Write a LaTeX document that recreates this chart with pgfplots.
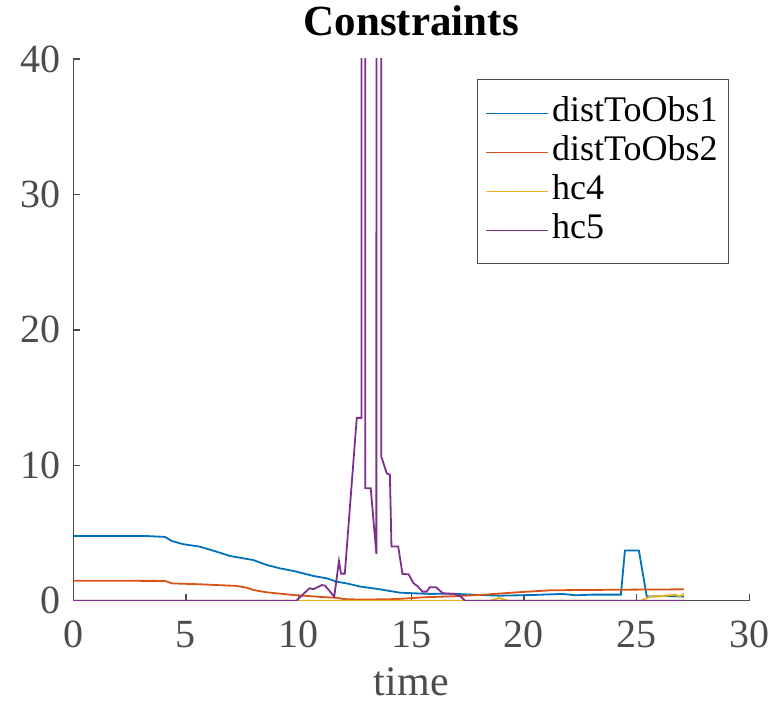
\documentclass[border=0pt]{standalone}
\usepackage{fontspec}
\setmainfont{LiberationSerif}[Extension=.ttf, UprightFont=*-Regular, BoldFont=*-Bold, ItalicFont=*-Italic, BoldItalicFont=*-BoldItalic]
\usepackage{pgfplots}
\pgfplotsset{compat=1.18}

\definecolor{mblue}{rgb}{0,0.447,0.741}
\definecolor{mred}{rgb}{0.85,0.325,0.098}
\definecolor{myellow}{rgb}{0.929,0.694,0.125}
\definecolor{mpurple}{rgb}{0.494,0.184,0.556}
\definecolor{axgray}{rgb}{0.3,0.3,0.3}

\begin{document}
\begin{tikzpicture}
\begin{axis}[
    at={(0,0)}, anchor=south west,
    scale only axis, width=676pt, height=541.7pt,
    xmin=0, xmax=30, ymin=0, ymax=40,
    xtick={0,5,...,30}, ytick={0,10,...,40},
    axis lines=left,
    axis line style={-, draw=axgray, line width=1.5pt},
    tick style={draw=axgray, line width=1.5pt},
    tick align=inside, major tick length=7pt,
    /pgf/number format/assume math mode=true,
    ticklabel style={font=\fontsize{40}{40}\selectfont, text=axgray, inner sep=0pt},
    xticklabel style={anchor=base, yshift=-47pt},
    yticklabel style={anchor=east, xshift=-13pt},
    xlabel={time},
    xlabel style={at={(axis description cs:0.5,0)}, anchor=base, yshift=-95pt,
        font=\fontsize{42}{42}\selectfont, text=axgray, inner sep=0pt},
    title={Constraints},
    title style={at={(axis description cs:0.5,1)}, anchor=base, yshift=17pt,
        font=\fontsize{43}{43}\selectfont\bfseries, inner sep=0pt},
    legend style={at={(0.970,0.9625)}, anchor=north east,
        draw=axgray, line width=1pt, fill=white,
        font=\fontsize{36}{36}\selectfont,
        inner xsep=8pt, inner ysep=14pt, row sep=0pt,
        nodes={text height=25pt, text depth=8pt, inner sep=3pt}},
    legend cell align=left,
    legend image code/.code={\draw[#1, line width=1.5pt] (0pt,0pt) -- (62pt,0pt);},
    every axis plot/.append style={line width=1.8pt},
    clip=true,
]
\addplot[draw=mblue] coordinates {
(0,4.78)(3.18,4.78)(4.07,4.71)(4.37,4.41)(4.88,4.17)(5.62,3.99)(6.3,3.65)
(6.96,3.30)(7.99,3.0)(8.58,2.64)(9.17,2.39)(9.76,2.2)(10.65,1.83)(11.25,1.65)
(11.69,1.40)(12.13,1.28)(12.72,1.05)(13.61,0.84)(14.5,0.59)(15.83,0.5)
(16.72,0.52)(18.05,0.42)(18.94,0.37)(20.4,0.42)(21.7,0.5)(22.3,0.4)
(23.07,0.45)(24.3,0.45)(24.48,3.7)(25.1,3.7)(25.45,0.3)(26.3,0.35)(27.1,0.3)
};
\addlegendentry{distToObs1}
\addplot[draw=mred] coordinates {
(0,1.48)(4.07,1.46)(4.37,1.28)(5.62,1.21)(7.25,1.09)(7.7,0.96)(7.99,0.79)
(8.58,0.62)(9.76,0.42)(11.25,0.25)(11.69,0.22)(11.98,0.12)(12.8,0.08)
(14.35,0.12)(15.53,0.25)(16.9,0.33)(18.2,0.44)(19.7,0.62)(21.2,0.77)
(24.2,0.81)(27.1,0.84)
};
\addlegendentry{distToObs2}
\addplot[draw=myellow] coordinates {
(0,0)(18.5,0)(18.9,0.2)(19.3,0)(25.2,0)(25.6,0.3)(26.2,0.35)(26.7,0.45)
(26.9,0.3)(27.1,0.5)
};
\addlegendentry{hc4}
\addplot[draw=mpurple] coordinates {
(0,0)(9.9,0)(10.48,0.92)(10.66,0.85)(11.03,1.16)(11.18,1.1)(11.58,0.3)
(11.79,2.93)(11.88,2.0)(12.05,2.0)(12.58,13.5)(12.79,13.5)(12.87,1000)
(12.96,8.3)(13.2,8.3)(13.45,3.45)(13.5,1000)(13.67,10.64)(13.91,9.4)
(14.05,9.3)(14.12,4.0)(14.42,4.0)(14.61,1.97)(14.88,1.95)(15.1,1.28)
(15.26,1.1)(15.5,0.67)(15.68,0.67)(15.82,0.99)(16.1,0.99)(16.4,0.55)
(16.9,0.5)(17.2,0.3)(17.38,0)(27.1,0)
};
\addlegendentry{hc5}
\end{axis}
\path[use as bounding box] (-73.3pt,-102.3pt) rectangle (706.7pt,600.7pt);
\end{tikzpicture}
\end{document}
